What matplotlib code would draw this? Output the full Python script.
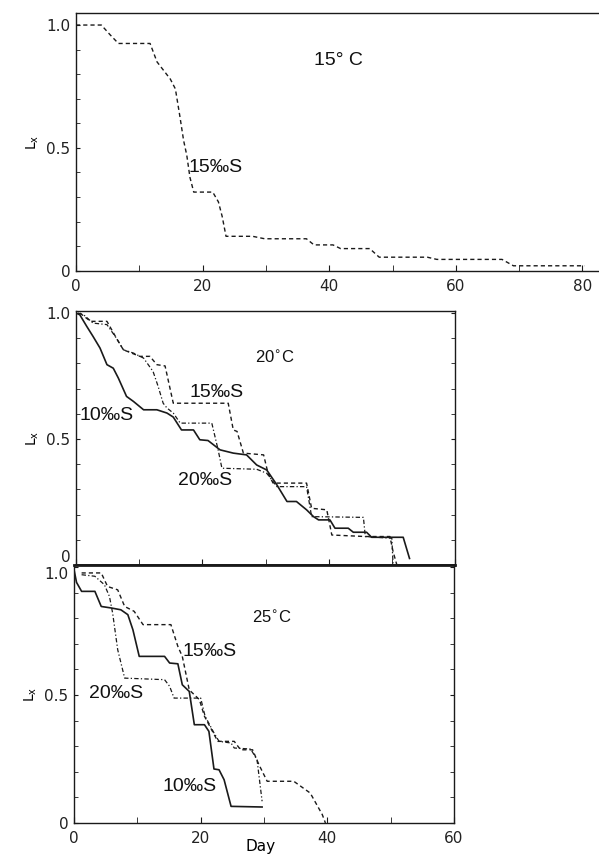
import matplotlib
matplotlib.use("Agg")
import matplotlib.pyplot as plt

from matplotlib import rcParams
from matplotlib.ticker import MultipleLocator

rcParams["font.family"] = "DejaVu Sans"
rcParams["font.size"] = 10

TEXT_FONT = "Liberation Sans"
INK = "#1a1a1a"

# 15 C panel, 15 permil salinity
T15_S15_DAY = [0, 4, 5.4, 6.7, 11.7, 12.8, 14.9, 15.7, 16.4, 17.0, 17.5, 18.0, 18.6,
               21.6, 22.5, 23.1, 23.7, 27.9, 29.8, 36.4, 37.6, 40.6, 41.8, 46.4,
               47.9, 55.5, 57.0, 67.3, 69.1, 80.3]
T15_S15_LX = [1.0, 1.0, 0.96, 0.925, 0.925, 0.85, 0.78, 0.74, 0.63, 0.53, 0.47, 0.38,
              0.32, 0.32, 0.28, 0.22, 0.14, 0.14, 0.13, 0.13, 0.105, 0.105, 0.09,
              0.09, 0.055, 0.055, 0.046, 0.046, 0.02, 0.02]

# 20 C panel
T20_S10_DAY = [0, 0.6, 1.7, 2.7, 3.8, 4.9, 5.9, 6.7, 8.0, 9.1, 10.7, 12.8, 14.4, 15.4,
               16.7, 18.6, 19.6, 20.9, 22.8, 24.9, 27.0, 28.6, 30.2, 31.8, 33.4,
               34.9, 36.5, 37.6, 38.4, 40.2, 41.0, 43.1, 43.9, 46.0, 46.8, 51.8, 52.8]
T20_S10_LX = [1.0, 0.993, 0.947, 0.907, 0.861, 0.795, 0.781, 0.742, 0.669, 0.649,
              0.616, 0.616, 0.603, 0.587, 0.536, 0.536, 0.497, 0.494, 0.457, 0.444,
              0.437, 0.397, 0.377, 0.318, 0.252, 0.252, 0.219, 0.192, 0.179, 0.179,
              0.146, 0.146, 0.13, 0.13, 0.11, 0.11, 0.026]

T20_S15_DAY = [0.6, 2.3, 4.9, 6.4, 7.5, 10.1, 11.7, 12.8, 14.1, 15.4, 24.1, 24.9,
               25.5, 26.5, 29.7, 30.4, 31.2, 36.5, 37.3, 39.7, 40.5, 45.8, 49.7,
               50.2, 50.8]
T20_S15_LX = [1.0, 0.967, 0.967, 0.90, 0.854, 0.828, 0.828, 0.795, 0.79, 0.642,
              0.642, 0.536, 0.53, 0.444, 0.437, 0.364, 0.325, 0.325, 0.225, 0.219,
              0.119, 0.113, 0.113, 0.053, 0.0]

T20_S20_DAY = [0.3, 1.2, 2.7, 4.9, 6.4, 7.5, 9.1, 10.7, 12.2, 13.0, 13.8, 14.4, 15.4,
               16.5, 21.5, 22.5, 23.1, 28.6, 30.2, 31.8, 36.5, 37.3, 45.5, 45.8,
               50.0, 50.2]
T20_S20_LX = [1.0, 0.993, 0.96, 0.954, 0.90, 0.854, 0.841, 0.821, 0.768, 0.709,
              0.642, 0.623, 0.603, 0.563, 0.563, 0.457, 0.384, 0.38, 0.364, 0.311,
              0.311, 0.192, 0.189, 0.113, 0.106, 0.0]

# 25 C panel
T25_S10_DAY = [0, 0.4, 1.2, 3.3, 4.3, 5.9, 7.4, 8.5, 9.3, 10.3, 14.3, 15.1, 16.4,
               17.1, 18.2, 19.0, 20.6, 21.3, 22.1, 22.9, 23.7, 24.8, 29.7]
T25_S10_LX = [0.99, 0.94, 0.905, 0.905, 0.846, 0.84, 0.833, 0.814, 0.755, 0.651,
              0.651, 0.625, 0.622, 0.54, 0.514, 0.384, 0.384, 0.358, 0.211, 0.208,
              0.169, 0.065, 0.0625]

T25_S15_DAY = [1.2, 4.3, 5.3, 6.9, 8.0, 9.5, 10.9, 15.3, 16.4, 17.1, 18.2, 19.8,
               20.6, 22.7, 25.3, 26.3, 28.2, 29.2, 30.5, 34.7, 37.3, 39.2, 39.7]
T25_S15_LX = [0.977, 0.977, 0.924, 0.911, 0.846, 0.827, 0.775, 0.775, 0.69, 0.651,
              0.52, 0.482, 0.417, 0.319, 0.319, 0.286, 0.286, 0.228, 0.163, 0.163,
              0.117, 0.033, 0.0]

T25_S20_DAY = [1.2, 3.3, 4.8, 5.6, 6.1, 6.9, 8.0, 14.3, 15.1, 15.8, 20.0, 20.7,
               22.1, 22.9, 24.8, 25.3, 27.9, 28.9, 29.7]
T25_S20_LX = [0.97, 0.964, 0.931, 0.885, 0.82, 0.677, 0.566, 0.56, 0.534, 0.488,
              0.488, 0.417, 0.352, 0.319, 0.3125, 0.293, 0.289, 0.247, 0.085]

SOLID = "-"
DASHED = (0, (3, 2.2))
DASHDOT = (0, (3.5, 1.8, 1, 1.8))


def style_axes(ax, xmax, ymax, right_ticks=True):
    ax.set_xlim(0, xmax)
    ax.set_ylim(0, ymax)
    ax.xaxis.set_major_locator(MultipleLocator(20))
    ax.xaxis.set_minor_locator(MultipleLocator(10))
    ax.set_yticks([0, 0.5, 1.0])
    ax.set_yticklabels(["0", "0.5", "1.0"])
    ax.yaxis.set_minor_locator(MultipleLocator(0.1))
    ax.tick_params(axis="both", which="both", direction="in", color=INK,
                   labelsize=11, labelcolor="#222222")
    ax.tick_params(axis="x", which="major", length=4, pad=6)
    ax.tick_params(axis="x", which="minor", length=4)
    ax.tick_params(axis="y", which="both", length=3, pad=4,
                   right=right_ticks)
    ax.set_ylabel(r"L$_\mathregular{x}$", fontsize=10, labelpad=4)
    for spine in ax.spines.values():
        spine.set_color(INK)
        spine.set_linewidth(1.0)


def label(ax, x, y, text, size=14, ha="left"):
    ax.text(x, y, text, fontsize=size, ha=ha, va="center",
            fontname=TEXT_FONT, color="#111111")


def main():
    fig = plt.figure(figsize=(5.99, 8.55), dpi=100)

    # top panel, 15 C (cut off at the right edge in the source)
    ax_top = fig.add_axes([76 / 599, 1 - 270.7 / 855, 1 - 76 / 599, 257.7 / 855])
    style_axes(ax_top, (599 - 76) / 6.33, 1.049, right_ticks=False)
    ax_top.spines["right"].set_visible(False)
    ax_top.plot(T15_S15_DAY, T15_S15_LX, color=INK, lw=1.0, linestyle=DASHED)
    label(ax_top, 41.5, 0.857, "15° C", size=14, ha="center")
    label(ax_top, 17.7, 0.422, "15‰S")

    # middle panel, 20 C
    ax_mid = fig.add_axes([76 / 599, 1 - 565 / 855, 379 / 599, 254 / 855])
    style_axes(ax_mid, 60, 1.008)
    ax_mid.tick_params(axis="x", which="both", labelbottom=False)
    ax_mid.spines["bottom"].set_linewidth(2.0)
    ax_mid.plot(T20_S10_DAY, T20_S10_LX, color=INK, lw=1.2, linestyle=SOLID)
    ax_mid.plot(T20_S15_DAY, T20_S15_LX, color=INK, lw=1.0, linestyle=DASHED)
    ax_mid.plot(T20_S20_DAY, T20_S20_LX, color=INK, lw=0.9, linestyle=DASHDOT)
    label(ax_mid, 31.5, 0.825, r"20$^{\circ}$C", size=12, ha="center")
    label(ax_mid, 18.0, 0.683, "15‰S")
    label(ax_mid, 0.6, 0.595, "10‰S")
    label(ax_mid, 16.1, 0.337, "20‰S")
    ax_mid.get_yticklabels()[0].set_verticalalignment("bottom")

    # bottom panel, 25 C
    ax_bot = fig.add_axes([74 / 599, 1 - 823 / 855, 380 / 599, 258 / 855])
    style_axes(ax_bot, 60, 1.008)
    ax_bot.spines["top"].set_linewidth(2.0)
    ax_bot.plot(T25_S10_DAY, T25_S10_LX, color=INK, lw=1.2, linestyle=SOLID)
    ax_bot.plot(T25_S15_DAY, T25_S15_LX, color=INK, lw=1.0, linestyle=DASHED)
    ax_bot.plot(T25_S20_DAY, T25_S20_LX, color=INK, lw=0.9, linestyle=DASHDOT)
    label(ax_bot, 31.2, 0.805, r"25$^{\circ}$C", size=12, ha="center")
    label(ax_bot, 17.2, 0.672, "15‰S")
    label(ax_bot, 2.4, 0.504, "20‰S")
    label(ax_bot, 13.9, 0.141, "10‰S")
    ax_bot.get_yticklabels()[2].set_verticalalignment("top")
    ax_bot.set_xlabel("Day", fontsize=11)
    ax_bot.xaxis.set_label_coords(0.49, -0.062)

    fig.savefig("out.png", dpi=100)
    plt.close(fig)


if __name__ == "__main__":
    main()
